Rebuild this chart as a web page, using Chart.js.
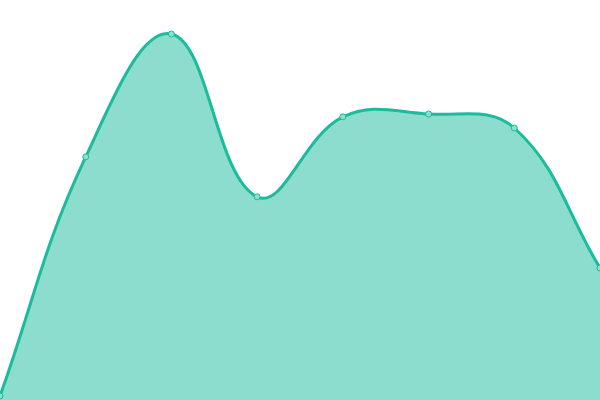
<!DOCTYPE html>
<html lang="en">
<head>
    <meta charset="UTF-8">
    <title>Area</title>
    <script src="https://cdn.jsdelivr.net/npm/chart.js"></script>
    <style>
        html, body { margin: 0; padding: 0; background: #fff; }
        #box { width: 600px; height: 400px; }
    </style>
</head>
<body>
    <div id="box">
        <canvas id="myChart"></canvas>
    </div>

<script>
    const labels = ['1', '2', '3', '4', '5', '6', '7', '8'];
    const valores = [1, 60.8, 91.5, 50.8, 70.8, 71.5, 68, 33];

    const config = {
        type: 'line',
        data: {
            labels: labels,
            datasets: [{
                data: valores,
                fill: true,
                tension: 0.4,
                borderColor: 'rgb(26, 188, 156)',
                backgroundColor: 'rgba(26, 188, 156, 0.5)',
                borderWidth: 3,
                pointRadius: 3,
                pointBorderWidth: 1,
                pointBackgroundColor: 'rgb(140, 224, 206)',
                pointBorderColor: 'rgb(26, 188, 156)'
            }]
        },
        options: {
            responsive: true,
            maintainAspectRatio: false,
            animation: false,
            layout: { padding: 0, autoPadding: false },
            plugins: {
                legend: { display: false },
                tooltip: { enabled: false }
            },
            scales: {
                x: { display: false },
                y: { display: false, min: 0, max: 100 }
            }
        }
    };

    new Chart(document.getElementById('myChart'), config);
</script>
</body>
</html>
